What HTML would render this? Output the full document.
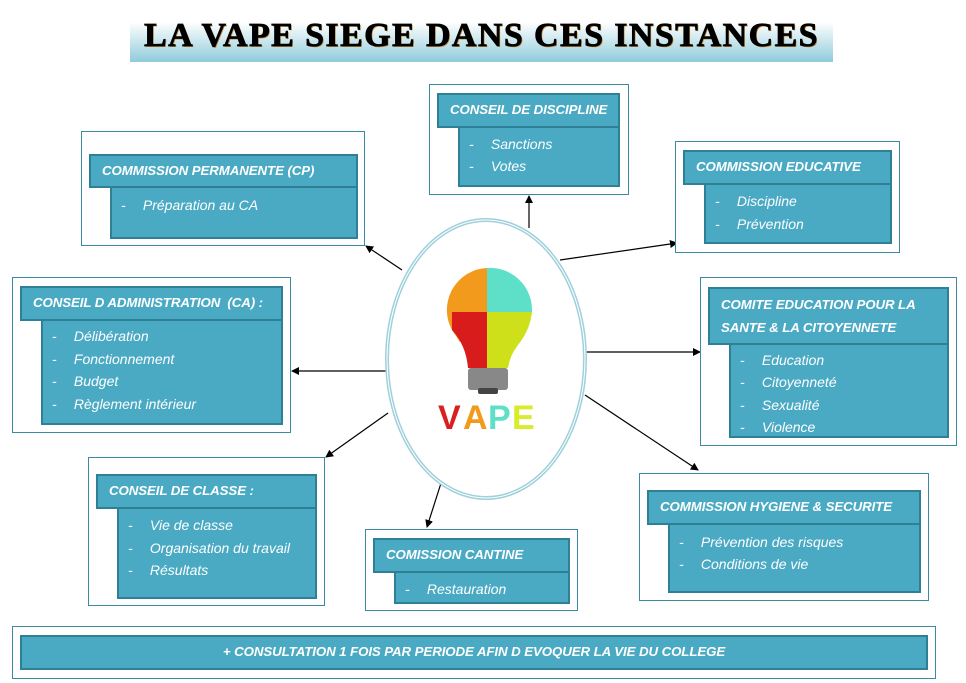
<!DOCTYPE html>
<html><head><meta charset="utf-8"><style>
body{margin:0;width:966px;height:683px;background:#fff;position:relative;overflow:hidden;font-family:"Liberation Sans",sans-serif;}
.o{position:absolute;border:1px solid #3a8aa0;background:#fff;box-sizing:border-box;}
.h{position:absolute;background:#4aaac4;border:2px solid #2f7f95;box-sizing:border-box;color:#fff;font-weight:bold;font-style:italic;font-size:13.3px;letter-spacing:-0.1px;padding-left:11px;line-height:30px;white-space:nowrap;}
.b{position:absolute;background:#4aaac4;border-left:2px solid #2f7f95;border-right:2px solid #2f7f95;border-bottom:2px solid #2f7f95;box-sizing:border-box;color:#fff;font-style:italic;font-size:14px;}
.it{position:absolute;white-space:nowrap;}
.it span{display:inline-block;width:27px;padding-left:9px;box-sizing:border-box;}
</style></head><body>
<div style="position:absolute;left:130px;top:12px;width:703px;height:50px;background:linear-gradient(#fff 20%,#8fcbdb);"></div>
<div style="position:absolute;left:130px;top:14px;width:703px;text-align:center;font-family:'Liberation Serif',serif;font-weight:bold;font-size:34px;line-height:44px;letter-spacing:1.4px;-webkit-text-stroke:0.8px #000;text-shadow:1px 1px 0 #c28a3a;">LA VAPE SIEGE DANS CES INSTANCES</div>

<svg style="position:absolute;left:0;top:0" width="966" height="683">
<defs><marker id="a" markerWidth="8" markerHeight="8" refX="7" refY="4" orient="auto" markerUnits="userSpaceOnUse"><path d="M0,0 L8,4 L0,8z" fill="#000"/></marker></defs>
<g stroke="#000" stroke-width="1.2" marker-end="url(#a)">
<line x1="529" y1="228" x2="529" y2="196"/>
<line x1="402" y1="270" x2="366" y2="246"/>
<line x1="560" y1="260" x2="677" y2="243"/>
<line x1="388" y1="371" x2="292" y2="371"/>
<line x1="585" y1="352" x2="700" y2="352"/>
<line x1="388" y1="413" x2="326" y2="457"/>
<line x1="442" y1="480" x2="427" y2="527"/>
<line x1="585" y1="395" x2="698" y2="470"/>
</g>
<ellipse cx="486" cy="359" rx="99" ry="139" fill="#fff" stroke="#9fd0dc" stroke-width="4"/>
<ellipse cx="486" cy="359" rx="99" ry="139" fill="none" stroke="#fff" stroke-width="1"/>
<g>
<path d="M487,268 A42,42 0 0 0 452,330 L460,342 L487,342 Z" fill="#f29a1c"/>
<path d="M487,268 A42,42 0 0 1 532,310 L532,312 L487,312 Z" fill="#5ee0c8"/>
<path d="M452,312 L487,312 L487,368 L468,368 Q466,345 452,330 Z" fill="#d81b1b"/>
<path d="M487,312 L532,312 Q530,330 518,345 Q510,355 508,368 L487,368 Z" fill="#cde01a"/>
<rect x="468" y="368" width="40" height="22" rx="3" fill="#888"/>
<rect x="478" y="388" width="20" height="6" rx="2" fill="#444"/>
</g>
<g font-family="Liberation Sans" font-weight="bold" font-size="34">
<text x="438" y="429" fill="#d82020">V</text><text x="463" y="429" fill="#f29a1c">A</text><text x="488" y="429" fill="#5ee0c8">P</text><text x="512" y="429" fill="#d8ec2a">E</text>
</g>
</svg>

<div class="o" style="left:81px;top:131px;width:284px;height:115px"></div>
<div class="b" style="left:110px;top:186px;width:248px;height:53px"><div class="it" style="left:0;top:11px"><span>-</span> Préparation au CA</div></div>
<div class="h" style="left:89px;top:154px;width:269px;height:34px">COMMISSION PERMANENTE (CP)</div>

<div class="o" style="left:12px;top:277px;width:279px;height:156px"></div>
<div class="b" style="left:41px;top:318px;width:242px;height:107px">
<div class="it" style="left:0;top:10px"><span>-</span> Délibération</div><div class="it" style="left:0;top:33px"><span>-</span> Fonctionnement</div><div class="it" style="left:0;top:55px"><span>-</span> Budget</div><div class="it" style="left:0;top:78px"><span>-</span> Règlement intérieur</div></div>
<div class="h" style="left:20px;top:286px;width:263px;height:35px">CONSEIL D ADMINISTRATION &nbsp;(CA) :</div>

<div class="o" style="left:88px;top:457px;width:237px;height:149px"></div>
<div class="b" style="left:117px;top:506px;width:200px;height:93px">
<div class="it" style="left:0;top:11px"><span>-</span> Vie de classe</div><div class="it" style="left:0;top:34px"><span>-</span> Organisation du travail</div><div class="it" style="left:0;top:56px"><span>-</span> Résultats</div></div>
<div class="h" style="left:96px;top:474px;width:221px;height:35px">CONSEIL DE CLASSE :</div>

<div class="o" style="left:365px;top:529px;width:213px;height:82px"></div>
<div class="b" style="left:394px;top:570px;width:176px;height:34px"><div class="it" style="left:0;top:11px"><span>-</span> Restauration</div></div>
<div class="h" style="left:373px;top:538px;width:197px;height:35px">COMISSION CANTINE</div>

<div class="o" style="left:429px;top:84px;width:200px;height:111px"></div>
<div class="b" style="left:458px;top:125px;width:162px;height:62px">
<div class="it" style="left:0;top:11px"><span>-</span> Sanctions</div><div class="it" style="left:0;top:33px"><span>-</span> Votes</div></div>
<div class="h" style="left:437px;top:93px;width:183px;height:35px">CONSEIL DE DISCIPLINE</div>

<div class="o" style="left:675px;top:141px;width:225px;height:112px"></div>
<div class="b" style="left:704px;top:182px;width:188px;height:62px">
<div class="it" style="left:0;top:11px"><span>-</span> Discipline</div><div class="it" style="left:0;top:34px"><span>-</span> Prévention</div></div>
<div class="h" style="left:683px;top:150px;width:209px;height:35px">COMMISSION EDUCATIVE</div>

<div class="o" style="left:700px;top:277px;width:257px;height:169px"></div>
<div class="b" style="left:729px;top:342px;width:220px;height:96px">
<div class="it" style="left:0;top:10px"><span>-</span> Education</div><div class="it" style="left:0;top:32px"><span>-</span> Citoyenneté</div><div class="it" style="left:0;top:55px"><span>-</span> Sexualité</div><div class="it" style="left:0;top:77px"><span>-</span> Violence</div></div>
<div class="h" style="left:708px;top:287px;width:241px;height:58px;line-height:23px;padding-top:4px">COMITE EDUCATION POUR LA<br>SANTE &amp; LA CITOYENNETE</div>

<div class="o" style="left:639px;top:473px;width:290px;height:128px"></div>
<div class="b" style="left:668px;top:522px;width:253px;height:71px">
<div class="it" style="left:0;top:12px"><span>-</span> Prévention des risques</div><div class="it" style="left:0;top:34px"><span>-</span> Conditions de vie</div></div>
<div class="h" style="left:647px;top:490px;width:274px;height:35px">COMMISSION HYGIENE &amp; SECURITE</div>

<div class="o" style="left:12px;top:626px;width:924px;height:53px"></div>
<div class="h" style="left:20px;top:635px;width:908px;height:35px;text-align:center;padding-left:0">+ CONSULTATION 1 FOIS PAR PERIODE AFIN D EVOQUER LA VIE DU COLLEGE</div>
</body></html>
